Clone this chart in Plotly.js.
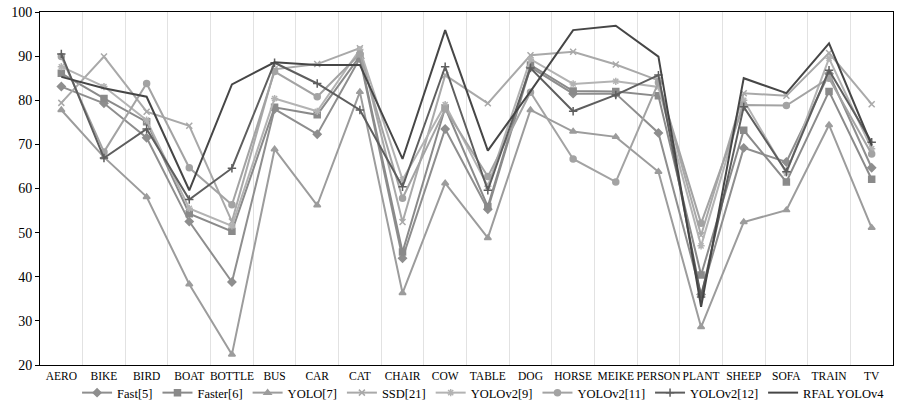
<!DOCTYPE html>
<html>
<head>
<meta charset="utf-8">
<script src="https://cdn.plot.ly/plotly-3.0.1.min.js"></script>
<style>html,body{margin:0;padding:0;background:#fff;}#chart{width:900px;height:408px;}</style>
</head>
<body>
<div id="chart"></div>
<script>
var categories = ["AERO","BIKE","BIRD","BOAT","BOTTLE","BUS","CAR","CAT","CHAIR","COW","TABLE","DOG","HORSE","MEIKE","PERSON","PLANT","SHEEP","SOFA","TRAIN","TV"];
var seriesNames = ["Fast[5]","Faster[6]","YOLO[7]","SSD[21]","YOLOv2[9]","YOLOv2[11]","YOLOv2[12]","RFAL YOLOv4"];

var fast5     = [83.1,79.3,71.5,52.5,38.8,78.0,72.3,89.5,44.2,73.5,55.3,87.5,81.5,81.5,72.6,36.0,69.2,66.0,86.0,64.7];
var faster6   = [86.1,80.4,75.1,54.3,50.3,78.4,76.7,90.0,45.6,78.3,55.9,88.0,82.1,82.0,81.0,40.4,73.2,61.5,82.0,62.1];
var yolo7     = [77.8,67.1,58.1,38.3,22.4,68.9,56.2,81.9,36.3,61.2,48.8,77.8,72.9,71.7,63.8,28.6,52.4,55.1,74.4,51.1];
var ssd21     = [79.4,89.9,77.4,74.2,52.5,87.0,88.2,91.8,52.4,85.7,79.3,90.2,91.0,88.1,84.5,49.4,81.6,81.0,90.7,79.1];
var yolov2_9  = [87.6,83.1,75.5,55.5,51.5,80.4,77.5,91.5,62.0,79.0,60.5,89.3,83.7,84.3,83.0,47.0,80.0,63.5,89.5,69.0];
var yolov2_11 = [89.9,68.3,83.8,64.7,56.3,86.5,80.8,90.5,57.8,78.0,62.7,81.8,66.7,61.5,84.0,52.1,78.9,78.8,85.0,67.8];
var yolov2_12 = [90.5,66.9,73.5,57.5,64.6,88.5,83.8,77.8,60.4,87.6,59.6,87.3,77.5,81.2,85.7,35.4,78.5,63.8,86.8,70.5];
var rfal      = [85.3,82.7,80.8,59.6,83.6,88.6,88.0,88.0,66.7,95.9,68.6,82.0,95.9,96.9,89.9,33.2,85.0,81.6,92.9,69.8];

var values = [fast5, faster6, yolo7, ssd21, yolov2_9, yolov2_11, yolov2_12, rfal];
var colors = ["#8e8e8e","#8a8a8a","#9c9c9c","#a9a9a9","#b3b3b3","#a3a3a3","#5e5e5e","#464646"];
var symbols = ["diamond","square","triangle-up","x-thin-open","asterisk-open","circle","cross-thin-open",null];

var FONT = "'Liberation Serif', serif";

var traces = values.map(function(v, i){
  var t = {
    type: "scatter",
    mode: symbols[i] ? "lines+markers" : "lines",
    name: seriesNames[i],
    x: categories,
    y: v,
    line: {color: colors[i], width: 2},
    cliponaxis: false
  };
  if (symbols[i]) {
    t.marker = {symbol: symbols[i], size: 6, color: colors[i], line: {color: colors[i], width: 1.5}};
  }
  return t;
});

var layout = {
  width: 900, height: 408,
  margin: {l: 40, r: 7, t: 12, b: 43, autoexpand: false},
  paper_bgcolor: "#ffffff",
  plot_bgcolor: "#ffffff",
  font: {family: FONT, size: 14, color: "#000"},
  showlegend: true,
  legend: {orientation: "h", xref: "paper", x: 0.52, xanchor: "center",
           yref: "container", y: -0.012, yanchor: "bottom",
           bgcolor: "rgba(0,0,0,0)",
           font: {family: FONT, size: 12.5, color: "#000"}, itemwidth: 30, tracegroupgap: 0},
  xaxis: {
    type: "category",
    categoryorder: "array", categoryarray: categories,
    range: [-0.5, 19.5],
    tickson: "boundaries",
    tickangle: 0,
    showgrid: true, gridcolor: "#e2e2e2", gridwidth: 1,
    ticks: "", showline: true, linecolor: "#000", linewidth: 1, mirror: true,
    tickfont: {family: FONT, size: 11.5, color: "#000"},
    zeroline: false
  },
  yaxis: {
    range: [20, 100],
    dtick: 10, tick0: 20,
    showgrid: false,
    ticks: "outside", ticklen: 4, tickcolor: "#000",
    showline: true, linecolor: "#000", linewidth: 1, mirror: true,
    tickfont: {family: FONT, size: 14, color: "#000"},
    zeroline: false
  }
};

Plotly.newPlot("chart", traces, layout, {displayModeBar: false, staticPlot: true});
</script>
</body>
</html>
